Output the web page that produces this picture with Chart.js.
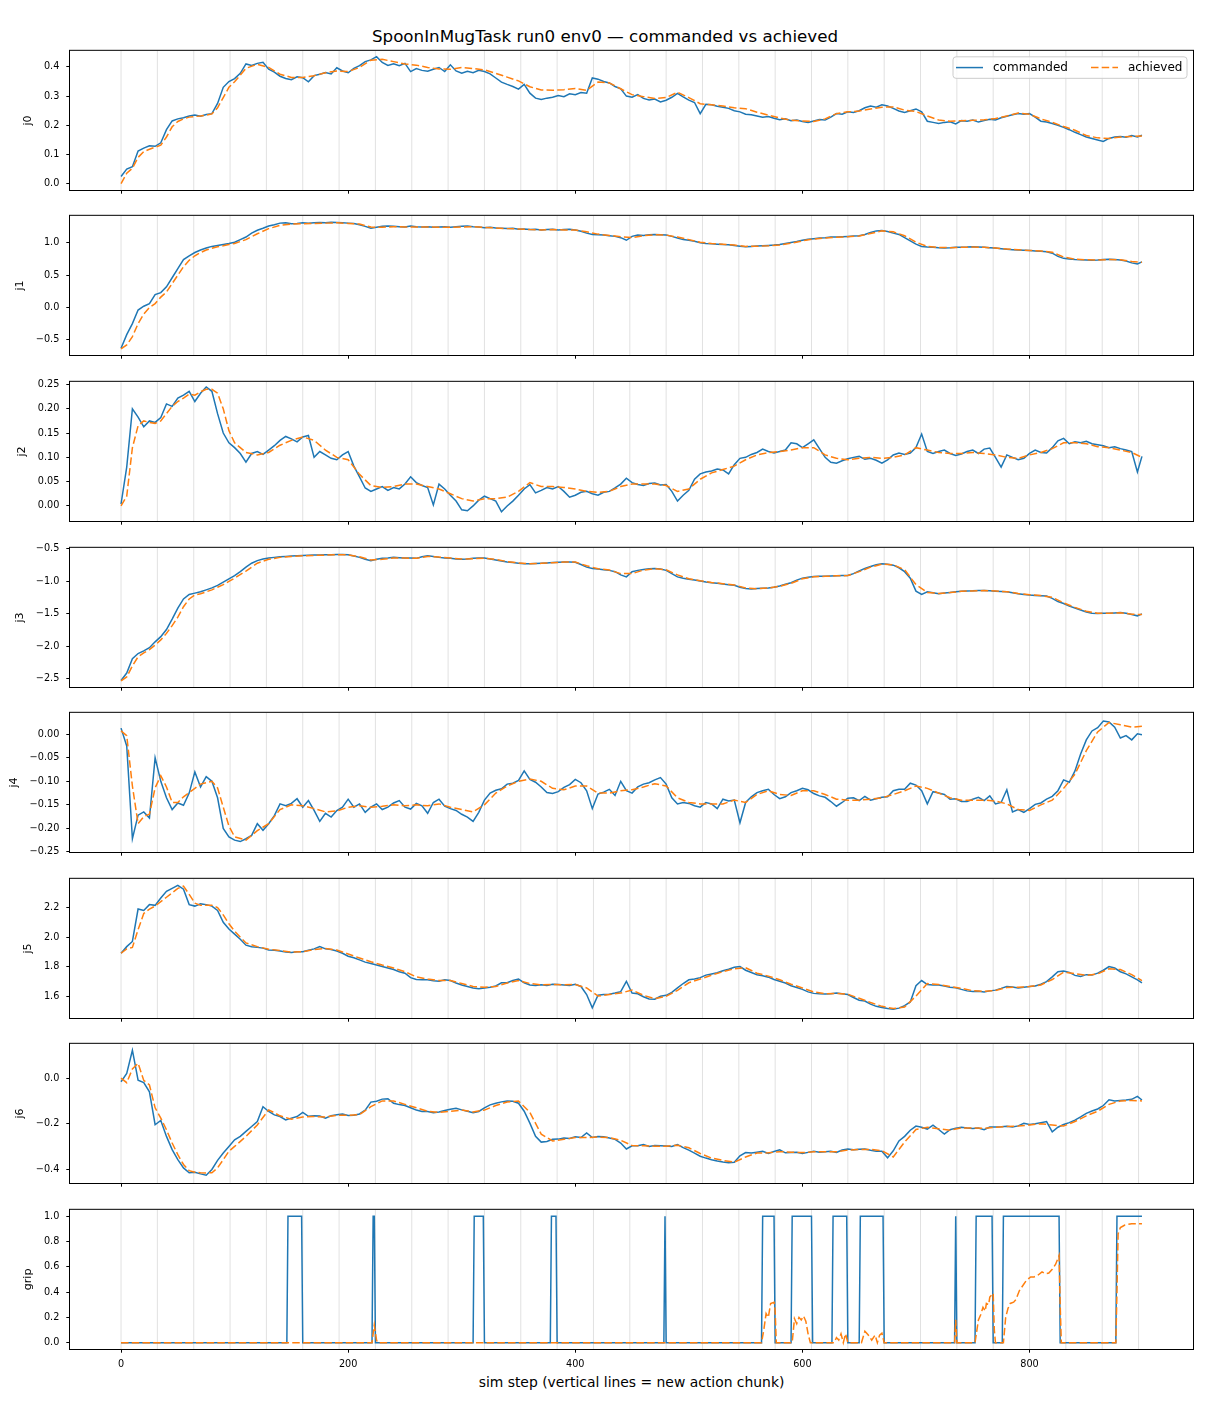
<!DOCTYPE html>
<html>
<head>
<meta charset="utf-8">
<title>SpoonInMugTask run0 env0</title>
<script src="https://cdn.jsdelivr.net/npm/chart.js@4.4.1/dist/chart.umd.min.js"></script>
<style>
  body { margin: 0; background: #fff; }
  #fig { position: relative; width: 1210px; height: 1408px; background: #fff; overflow: hidden; }
  #title { position: absolute; left: 0; top: 25px; width: 1210px; text-align: center;
           font: 16.7px "DejaVu Sans", sans-serif; line-height: 22px; color: #000; }
  #xlabel { position: absolute; left: 70px; top: 1373px; width: 1123px; text-align: center;
            font: 13.9px "DejaVu Sans", sans-serif; line-height: 18px; color: #000; }
  #fig canvas { position: absolute; left: 0; }
</style>
</head>
<body>
<div id="fig">
  <div id="title">SpoonInMugTask run0 env0 — commanded vs achieved</div>
  <div id="xlabel">sim step (vertical lines = new action chunk)</div>
</div>
<script>
// sample positions: commanded every 5 steps, achieved every 5 steps up to 100 then every 10
const cmdSteps = [];
for (let s = 0; s < 900; s += 5) cmdSteps.push(s);
cmdSteps.push(899);
const achSteps = [];
for (let s = 0; s <= 100; s += 5) achSteps.push(s);
for (let s = 110; s < 900; s += 10) achSteps.push(s);
achSteps.push(899);

// steps where a new action chunk starts
const chunkStarts = [0, 32, 64, 96, 128, 160, 192, 224, 256, 288, 320, 352, 384, 416, 448,
  480, 512, 544, 576, 608, 640, 672, 704, 736, 768, 800, 832, 864, 896];

const xTicks = [0, 200, 400, 600, 800];
const j0Ticks = [0.0, 0.1, 0.2, 0.3, 0.4];
const j1Ticks = [-0.5, 0.0, 0.5, 1.0];
const j2Ticks = [0.00, 0.05, 0.10, 0.15, 0.20, 0.25];
const j3Ticks = [-2.5, -2.0, -1.5, -1.0, -0.5];
const j4Ticks = [-0.25, -0.20, -0.15, -0.10, -0.05, 0.00];
const j5Ticks = [1.6, 1.8, 2.0, 2.2];
const j6Ticks = [-0.4, -0.2, 0.0];
const gripTicks = [0.0, 0.2, 0.4, 0.6, 0.8, 1.0];

const j0Cmd = [
  0.025, 0.05, 0.058, 0.112, 0.122, 0.13, 0.128, 0.14, 0.185, 0.215,
  0.222, 0.226, 0.232, 0.235, 0.231, 0.237, 0.24, 0.275, 0.33, 0.35,
  0.36, 0.378, 0.41, 0.405, 0.412, 0.416, 0.392, 0.382, 0.368, 0.36,
  0.356, 0.366, 0.363, 0.349, 0.37, 0.375, 0.381, 0.376, 0.397, 0.386,
  0.38, 0.395, 0.404, 0.418, 0.424, 0.435, 0.415, 0.405, 0.411, 0.404,
  0.412, 0.384, 0.394, 0.388, 0.385, 0.392, 0.398, 0.384, 0.407, 0.386,
  0.378, 0.385, 0.38, 0.388, 0.384, 0.376, 0.362, 0.348, 0.34, 0.333,
  0.324, 0.34, 0.31, 0.293, 0.288, 0.293, 0.296, 0.302, 0.298, 0.308,
  0.305, 0.312, 0.31, 0.362, 0.358, 0.35, 0.345, 0.333, 0.325, 0.3,
  0.296, 0.305, 0.292, 0.287, 0.29, 0.28, 0.286, 0.296, 0.309, 0.297,
  0.286, 0.278, 0.24, 0.272, 0.27, 0.265, 0.262, 0.258, 0.25, 0.246,
  0.238, 0.236, 0.232, 0.228, 0.23, 0.224, 0.219, 0.222, 0.216, 0.218,
  0.213, 0.21, 0.215, 0.22, 0.218, 0.228, 0.24, 0.238, 0.246, 0.244,
  0.25, 0.26, 0.266, 0.262, 0.27, 0.266, 0.258, 0.249, 0.244, 0.25,
  0.256, 0.246, 0.214, 0.21, 0.206, 0.21, 0.212, 0.205, 0.216, 0.214,
  0.218, 0.211, 0.216, 0.221, 0.218, 0.226, 0.231, 0.236, 0.24, 0.238,
  0.24, 0.228, 0.214, 0.211, 0.206, 0.2, 0.193, 0.185, 0.176, 0.168,
  0.16, 0.155, 0.15, 0.145, 0.155, 0.16, 0.162, 0.159, 0.165, 0.16,
  0.166
];
const j0Ach = [
  0.0, 0.036, 0.053, 0.09, 0.11, 0.118, 0.125, 0.132, 0.16, 0.195, 0.213,
  0.222, 0.228, 0.23, 0.232, 0.235, 0.239, 0.26, 0.295, 0.33, 0.349,
  0.395, 0.409, 0.398, 0.375, 0.364, 0.364, 0.37, 0.38, 0.386, 0.384,
  0.398, 0.423, 0.426, 0.418, 0.41, 0.406, 0.398, 0.393, 0.392, 0.398,
  0.394, 0.39, 0.378, 0.365, 0.352, 0.332, 0.321, 0.32, 0.322, 0.326,
  0.32, 0.348, 0.345, 0.325, 0.305, 0.298, 0.292, 0.295, 0.313, 0.295,
  0.274, 0.27, 0.266, 0.26, 0.257, 0.245, 0.235, 0.225, 0.217, 0.215,
  0.213, 0.222, 0.24, 0.246, 0.249, 0.256, 0.262, 0.263, 0.252, 0.247,
  0.232, 0.218, 0.214, 0.216, 0.217, 0.219, 0.223, 0.232, 0.242, 0.238,
  0.222, 0.21, 0.196, 0.183, 0.165, 0.157, 0.155, 0.16, 0.162,
  0.163
];

const j1Cmd = [
  -0.63, -0.42, -0.25, -0.04, 0.02, 0.06, 0.2, 0.23, 0.32, 0.46,
  0.6, 0.74, 0.8, 0.85, 0.89, 0.92, 0.945, 0.96, 0.975, 0.99,
  1.01, 1.05, 1.09, 1.15, 1.195, 1.225, 1.26, 1.28, 1.305, 1.31,
  1.295, 1.3, 1.31, 1.305, 1.31, 1.315, 1.31, 1.32, 1.315, 1.31,
  1.305, 1.3, 1.28, 1.255, 1.225, 1.24, 1.255, 1.26, 1.255, 1.25,
  1.245, 1.26, 1.25, 1.245, 1.25, 1.24, 1.245, 1.25, 1.24, 1.25,
  1.255, 1.26, 1.25, 1.245, 1.235, 1.24, 1.23, 1.225, 1.22, 1.225,
  1.21, 1.215, 1.205, 1.21, 1.2, 1.205, 1.21, 1.2, 1.205, 1.21,
  1.2, 1.18, 1.15, 1.13, 1.125, 1.12, 1.11, 1.1, 1.08, 1.04,
  1.1, 1.12, 1.115, 1.125, 1.13, 1.125, 1.12, 1.1, 1.075, 1.05,
  1.04, 1.025, 1.0, 0.99, 0.985, 0.98, 0.975, 0.972, 0.96, 0.948,
  0.94, 0.945, 0.95, 0.955, 0.96, 0.965, 0.975, 0.99, 1.005, 1.02,
  1.04, 1.055, 1.065, 1.075, 1.08, 1.09, 1.09, 1.095, 1.1, 1.105,
  1.11, 1.13, 1.16, 1.185, 1.19, 1.175, 1.15, 1.13, 1.08, 1.03,
  0.98, 0.945, 0.935, 0.93, 0.925, 0.922, 0.925, 0.93, 0.932, 0.935,
  0.94, 0.935, 0.93, 0.925, 0.92, 0.91, 0.9, 0.895, 0.89, 0.885,
  0.88, 0.875, 0.87, 0.862, 0.84, 0.79, 0.76, 0.75, 0.742, 0.738,
  0.735, 0.732, 0.736, 0.742, 0.745, 0.744, 0.735, 0.72, 0.69, 0.672,
  0.705
];
const j1Ach = [
  -0.64, -0.58, -0.45, -0.25, -0.1, 0.0, 0.06, 0.16, 0.24, 0.37, 0.5,
  0.63, 0.73, 0.8, 0.85, 0.89, 0.915, 0.94, 0.955, 0.975, 0.99,
  1.05, 1.14, 1.22, 1.27, 1.29, 1.295, 1.3, 1.305, 1.31, 1.3,
  1.29, 1.245, 1.24, 1.25, 1.245, 1.245, 1.245, 1.24, 1.24, 1.245,
  1.25, 1.24, 1.23, 1.22, 1.215, 1.205, 1.2, 1.205, 1.2, 1.2,
  1.17, 1.135, 1.115, 1.095, 1.08, 1.11, 1.125, 1.12, 1.09, 1.05,
  1.01, 0.99, 0.98, 0.965, 0.945, 0.948, 0.955, 0.968, 0.995, 1.03,
  1.06, 1.075, 1.085, 1.095, 1.105, 1.145, 1.185, 1.17, 1.11, 1.01,
  0.945, 0.93, 0.925, 0.93, 0.935, 0.93, 0.92, 0.905, 0.892, 0.882,
  0.872, 0.855, 0.78, 0.748, 0.738, 0.735, 0.742, 0.738, 0.71,
  0.7
];

const j2Cmd = [
  0.004, 0.08, 0.2, 0.183, 0.163, 0.175, 0.172, 0.182, 0.21, 0.205,
  0.222, 0.228, 0.236, 0.215, 0.232, 0.245, 0.236, 0.19, 0.15, 0.13,
  0.12, 0.108, 0.09, 0.108, 0.112, 0.106, 0.115, 0.124, 0.135, 0.143,
  0.138, 0.132, 0.142, 0.145, 0.1, 0.112, 0.105, 0.098, 0.095, 0.105,
  0.112, 0.082, 0.06, 0.037, 0.03, 0.035, 0.04, 0.032, 0.038, 0.035,
  0.045, 0.06, 0.048, 0.042, 0.038, 0.002, 0.045, 0.035, 0.022, 0.01,
  -0.008, -0.01, 0.0, 0.012, 0.02, 0.015, 0.01, -0.012, 0.0, 0.01,
  0.022, 0.035, 0.044, 0.027, 0.032, 0.038, 0.035, 0.04, 0.03, 0.018,
  0.022, 0.028, 0.03, 0.025, 0.022, 0.028, 0.03, 0.037, 0.045, 0.057,
  0.048, 0.044, 0.042, 0.046, 0.047, 0.043, 0.044, 0.03, 0.01, 0.022,
  0.032, 0.055, 0.066, 0.07, 0.072, 0.076, 0.074, 0.066, 0.085, 0.098,
  0.1, 0.106, 0.11, 0.117, 0.112, 0.109, 0.112, 0.115, 0.13, 0.128,
  0.12, 0.128, 0.136, 0.118, 0.1, 0.09, 0.088, 0.093, 0.097, 0.1,
  0.102, 0.096, 0.098, 0.094, 0.088, 0.095, 0.105, 0.109, 0.106, 0.109,
  0.12, 0.148, 0.112, 0.108, 0.112, 0.115, 0.108, 0.104, 0.107, 0.112,
  0.115, 0.108, 0.117, 0.119, 0.1, 0.08, 0.105, 0.1, 0.095, 0.098,
  0.108, 0.115, 0.11, 0.109, 0.12, 0.134, 0.139, 0.128, 0.132, 0.13,
  0.133, 0.128, 0.126, 0.124, 0.12, 0.122, 0.118, 0.115, 0.112, 0.07,
  0.102
];
const j2Ach = [
  0.0, 0.02, 0.12, 0.165, 0.175, 0.172, 0.17, 0.175, 0.19, 0.205, 0.215,
  0.222, 0.23, 0.228, 0.235, 0.24, 0.24, 0.232, 0.2, 0.155, 0.13,
  0.11, 0.105, 0.11, 0.125, 0.135, 0.142, 0.135, 0.115, 0.1, 0.095,
  0.065, 0.042, 0.038, 0.04, 0.045, 0.045, 0.04, 0.035, 0.025, 0.015,
  0.01, 0.015, 0.015, 0.018, 0.03, 0.048, 0.04, 0.04, 0.038, 0.035,
  0.03, 0.028, 0.03, 0.04, 0.045, 0.045, 0.045, 0.042, 0.03, 0.035,
  0.055, 0.068, 0.075, 0.082, 0.095, 0.105, 0.11, 0.112, 0.115, 0.12,
  0.12, 0.105, 0.098, 0.095, 0.098, 0.1, 0.098, 0.1, 0.105, 0.12,
  0.115, 0.11, 0.108, 0.108, 0.11, 0.108, 0.105, 0.1, 0.098, 0.105,
  0.11, 0.118, 0.13, 0.13, 0.128, 0.122, 0.12, 0.115, 0.11,
  0.1
];

const j3Cmd = [
  -2.525, -2.41, -2.19, -2.11, -2.07, -2.02, -1.93, -1.85, -1.74, -1.58,
  -1.41, -1.27, -1.2, -1.18, -1.16, -1.13, -1.1, -1.06, -1.01, -0.96,
  -0.91, -0.85, -0.78, -0.72, -0.68, -0.655, -0.64, -0.63, -0.62, -0.615,
  -0.61, -0.605, -0.6, -0.598, -0.595, -0.592, -0.59, -0.588, -0.585, -0.585,
  -0.59, -0.61, -0.63, -0.66, -0.68, -0.66, -0.645, -0.64, -0.63, -0.635,
  -0.64, -0.64, -0.645, -0.62, -0.605, -0.615, -0.63, -0.64, -0.645, -0.655,
  -0.66, -0.655, -0.645, -0.64, -0.64, -0.655, -0.67, -0.685, -0.7, -0.71,
  -0.72, -0.728, -0.73, -0.725, -0.72, -0.715, -0.71, -0.705, -0.7, -0.7,
  -0.705, -0.74, -0.78, -0.8, -0.81, -0.82, -0.83, -0.85, -0.9, -0.93,
  -0.85, -0.83, -0.815, -0.805, -0.8, -0.81, -0.83, -0.88, -0.93, -0.95,
  -0.965, -0.98, -0.995, -1.01, -1.02, -1.03, -1.04, -1.05, -1.06, -1.09,
  -1.11, -1.115, -1.11, -1.105, -1.1, -1.09, -1.07, -1.045, -1.02, -0.98,
  -0.95, -0.935, -0.925, -0.92, -0.92, -0.915, -0.912, -0.91, -0.91, -0.88,
  -0.84, -0.8, -0.77, -0.745, -0.73, -0.735, -0.75, -0.79, -0.85, -0.95,
  -1.15, -1.2, -1.16, -1.175, -1.19, -1.18, -1.17, -1.16, -1.15, -1.148,
  -1.145, -1.14, -1.14, -1.145, -1.15, -1.155, -1.16, -1.175, -1.19, -1.2,
  -1.21, -1.215, -1.22, -1.225, -1.26, -1.31, -1.34, -1.38, -1.41, -1.44,
  -1.47, -1.49, -1.495, -1.49, -1.49, -1.485, -1.48, -1.49, -1.51, -1.53,
  -1.5
];
const j3Ach = [
  -2.53, -2.47, -2.3, -2.16, -2.1, -2.05, -1.98, -1.9, -1.8, -1.68, -1.55,
  -1.39, -1.27, -1.21, -1.19, -1.16, -1.13, -1.09, -1.05, -1.0, -0.95,
  -0.84, -0.72, -0.66, -0.63, -0.615, -0.605, -0.6, -0.595, -0.59, -0.592,
  -0.62, -0.67, -0.66, -0.64, -0.64, -0.645, -0.615, -0.625, -0.64, -0.655,
  -0.65, -0.642, -0.66, -0.695, -0.715, -0.728, -0.722, -0.712, -0.702, -0.702,
  -0.76, -0.805, -0.825, -0.88, -0.88, -0.825, -0.805, -0.82, -0.9, -0.96,
  -0.99, -1.015, -1.035, -1.055, -1.1, -1.112, -1.102, -1.075, -1.03, -0.96,
  -0.93, -0.922, -0.914, -0.91, -0.85, -0.78, -0.735, -0.745, -0.82, -1.05,
  -1.17, -1.185, -1.172, -1.152, -1.146, -1.14, -1.148, -1.158, -1.185, -1.205,
  -1.218, -1.245, -1.33, -1.4, -1.46, -1.49, -1.49, -1.482, -1.505,
  -1.51
];

const j4Cmd = [
  0.013, -0.025, -0.222, -0.172, -0.165, -0.178, -0.05, -0.1, -0.135, -0.16,
  -0.146, -0.151, -0.125, -0.08, -0.112, -0.09, -0.1, -0.135, -0.2, -0.218,
  -0.225, -0.228, -0.222, -0.215, -0.19, -0.204, -0.19, -0.173, -0.148, -0.152,
  -0.147, -0.137, -0.155, -0.141, -0.162, -0.185, -0.168, -0.176, -0.162, -0.155,
  -0.138, -0.155, -0.148, -0.166, -0.155, -0.148, -0.16, -0.155, -0.146, -0.141,
  -0.155, -0.159, -0.147, -0.152, -0.168, -0.145, -0.138, -0.153, -0.158, -0.162,
  -0.17, -0.176, -0.185, -0.166, -0.14, -0.125, -0.119, -0.116, -0.106, -0.104,
  -0.098, -0.078, -0.096, -0.102, -0.112, -0.124, -0.126, -0.122, -0.113, -0.107,
  -0.096, -0.103, -0.12, -0.158, -0.127, -0.123, -0.117, -0.13, -0.1, -0.12,
  -0.125, -0.112, -0.106, -0.103, -0.097, -0.092, -0.106, -0.135, -0.148, -0.145,
  -0.147, -0.152, -0.155, -0.145, -0.148, -0.158, -0.138, -0.142, -0.14, -0.188,
  -0.145, -0.133, -0.124, -0.12, -0.117, -0.128, -0.137, -0.133, -0.124, -0.12,
  -0.115, -0.118, -0.126, -0.131, -0.134, -0.143, -0.153, -0.145, -0.136, -0.135,
  -0.141, -0.132, -0.14, -0.137, -0.134, -0.133, -0.12, -0.117, -0.117, -0.104,
  -0.108, -0.12, -0.148, -0.122, -0.125, -0.128, -0.138, -0.137, -0.143, -0.143,
  -0.138, -0.134, -0.141, -0.131, -0.148, -0.145, -0.118, -0.165, -0.16, -0.166,
  -0.158, -0.149, -0.146, -0.138, -0.132, -0.12, -0.097, -0.102, -0.078, -0.042,
  -0.012, 0.007, 0.014, 0.028, 0.026, 0.015, -0.008, -0.003, -0.012, 0.001,
  -0.001
];
const j4Ach = [
  0.007, -0.003, -0.11, -0.19, -0.175, -0.17, -0.114, -0.088, -0.112, -0.145, -0.145,
  -0.133, -0.124, -0.115, -0.106, -0.103, -0.1, -0.114, -0.155, -0.195, -0.218,
  -0.225, -0.205, -0.19, -0.16, -0.15, -0.152, -0.158, -0.165, -0.163, -0.155,
  -0.152, -0.155, -0.153, -0.15, -0.152, -0.15, -0.152, -0.148, -0.155, -0.16,
  -0.165, -0.15, -0.125, -0.11, -0.1, -0.095, -0.1, -0.115, -0.118, -0.11,
  -0.11, -0.125, -0.125, -0.12, -0.118, -0.112, -0.105, -0.11, -0.135, -0.145,
  -0.148, -0.148, -0.148, -0.14, -0.145, -0.128, -0.12, -0.128, -0.13, -0.12,
  -0.12, -0.128, -0.138, -0.14, -0.14, -0.138, -0.135, -0.128, -0.12, -0.11,
  -0.115, -0.125, -0.135, -0.14, -0.14, -0.14, -0.142, -0.148, -0.16, -0.162,
  -0.15, -0.14, -0.115, -0.085, -0.035, 0.005, 0.025, 0.02, 0.015,
  0.017
];

const j5Cmd = [
  1.89, 1.935, 1.97, 2.19, 2.18, 2.22, 2.215, 2.265, 2.31, 2.33,
  2.35, 2.325, 2.22, 2.21, 2.225, 2.22, 2.21, 2.18, 2.1, 2.055,
  2.02, 1.985, 1.945, 1.935, 1.93, 1.925, 1.912, 1.91, 1.905, 1.898,
  1.895, 1.9, 1.9, 1.91, 1.92, 1.935, 1.92, 1.915, 1.905, 1.89,
  1.87, 1.86, 1.845, 1.83, 1.82, 1.81, 1.8, 1.79, 1.78, 1.765,
  1.755, 1.725, 1.712, 1.71, 1.71, 1.703, 1.7, 1.71, 1.705, 1.688,
  1.675, 1.665, 1.655, 1.65, 1.655, 1.66, 1.668, 1.69, 1.69, 1.705,
  1.715, 1.69, 1.675, 1.672, 1.676, 1.672, 1.68, 1.678, 1.675, 1.672,
  1.68, 1.665, 1.61, 1.52, 1.605, 1.61, 1.612, 1.62, 1.63, 1.7,
  1.62, 1.615, 1.595, 1.58, 1.578, 1.598, 1.605, 1.625, 1.655, 1.685,
  1.71, 1.715, 1.725, 1.742, 1.75, 1.758, 1.772, 1.782, 1.795, 1.8,
  1.775, 1.76, 1.745, 1.738, 1.728, 1.712, 1.7, 1.688, 1.67, 1.658,
  1.645, 1.628, 1.618, 1.615, 1.613, 1.616, 1.62, 1.615, 1.61, 1.59,
  1.572, 1.566, 1.545, 1.53, 1.522, 1.515, 1.51, 1.518, 1.535, 1.56,
  1.67, 1.705, 1.678, 1.675, 1.674, 1.668, 1.66, 1.656, 1.645, 1.635,
  1.63, 1.632, 1.628, 1.635, 1.64, 1.652, 1.665, 1.662, 1.655, 1.66,
  1.665, 1.668, 1.68, 1.698, 1.73, 1.765, 1.77, 1.76, 1.74, 1.732,
  1.745, 1.742, 1.755, 1.775, 1.8, 1.79, 1.765, 1.75, 1.73, 1.71,
  1.69
];
const j5Ach = [
  1.89, 1.92, 1.93, 2.05, 2.16, 2.19, 2.21, 2.24, 2.27, 2.3, 2.33,
  2.345, 2.29, 2.23, 2.215, 2.215, 2.215, 2.2, 2.15, 2.09, 2.04,
  1.96, 1.935, 1.918, 1.908, 1.898, 1.9, 1.915, 1.922, 1.912, 1.885,
  1.858, 1.832, 1.81, 1.79, 1.765, 1.73, 1.715, 1.705, 1.705, 1.685,
  1.665, 1.66, 1.665, 1.688, 1.705, 1.685, 1.676, 1.678, 1.676, 1.678,
  1.655, 1.6, 1.61, 1.62, 1.64, 1.605, 1.582, 1.598, 1.638, 1.69,
  1.715, 1.742, 1.765, 1.785, 1.792, 1.755, 1.735, 1.71, 1.68, 1.655,
  1.628, 1.615, 1.618, 1.612, 1.585, 1.556, 1.53, 1.515, 1.525, 1.6,
  1.685, 1.678, 1.665, 1.652, 1.636, 1.632, 1.638, 1.658, 1.66, 1.664,
  1.675, 1.712, 1.762, 1.752, 1.74, 1.75, 1.785, 1.78, 1.745,
  1.705
];

const j6Cmd = [
  -0.016, 0.02, 0.122, -0.009, -0.02, -0.06, -0.204, -0.185, -0.255, -0.313,
  -0.357, -0.393, -0.414, -0.412, -0.419, -0.425, -0.4, -0.36, -0.328, -0.299,
  -0.27, -0.255, -0.233, -0.212, -0.19, -0.125, -0.146, -0.161, -0.168, -0.183,
  -0.175, -0.168, -0.15, -0.167, -0.165, -0.166, -0.175, -0.165, -0.16, -0.157,
  -0.164, -0.163, -0.157, -0.14, -0.105, -0.101, -0.092, -0.09, -0.11, -0.116,
  -0.12, -0.13, -0.14, -0.146, -0.146, -0.152, -0.148, -0.142, -0.136, -0.132,
  -0.139, -0.145, -0.152, -0.146, -0.13, -0.117, -0.11, -0.104, -0.1, -0.101,
  -0.11, -0.145, -0.197, -0.255, -0.28, -0.277, -0.268, -0.267, -0.262, -0.264,
  -0.257, -0.26, -0.24, -0.26, -0.256, -0.257, -0.262, -0.268, -0.284, -0.31,
  -0.296, -0.296, -0.291, -0.299, -0.295, -0.296, -0.297, -0.299, -0.291, -0.304,
  -0.315, -0.328, -0.342, -0.35, -0.357, -0.363, -0.367, -0.37, -0.368, -0.34,
  -0.326, -0.328, -0.324, -0.32, -0.33, -0.321, -0.314, -0.327, -0.326, -0.325,
  -0.33, -0.325, -0.32, -0.324, -0.322, -0.32, -0.325, -0.315, -0.31, -0.313,
  -0.311, -0.31, -0.316, -0.32, -0.32, -0.349, -0.318, -0.275, -0.255, -0.228,
  -0.21, -0.215, -0.223, -0.206, -0.225, -0.245, -0.226, -0.219, -0.215, -0.218,
  -0.22, -0.218, -0.226, -0.214, -0.214, -0.213, -0.211, -0.214, -0.209, -0.198,
  -0.203, -0.2, -0.195, -0.19, -0.235, -0.215, -0.203, -0.195, -0.184, -0.17,
  -0.154, -0.144, -0.135, -0.12, -0.095, -0.1, -0.098, -0.096, -0.093, -0.08,
  -0.096
];
const j6Ach = [
  0.0, -0.02, 0.04, 0.065, -0.01, -0.03, -0.13, -0.175, -0.226, -0.284, -0.335,
  -0.378, -0.405, -0.412, -0.414, -0.415, -0.414, -0.393, -0.357, -0.32, -0.299,
  -0.255, -0.205, -0.139, -0.165, -0.18, -0.17, -0.168, -0.17, -0.163, -0.163,
  -0.16, -0.125, -0.1, -0.1, -0.115, -0.13, -0.145, -0.15, -0.145, -0.14,
  -0.148, -0.14, -0.12, -0.105, -0.1, -0.15, -0.245, -0.275, -0.268, -0.26,
  -0.26, -0.258, -0.26, -0.272, -0.295, -0.296, -0.298, -0.298, -0.294, -0.305,
  -0.33, -0.35, -0.36, -0.368, -0.345, -0.328, -0.327, -0.322, -0.324, -0.326,
  -0.322, -0.322, -0.322, -0.315, -0.312, -0.312, -0.318, -0.345, -0.28, -0.225,
  -0.215, -0.222, -0.228, -0.218, -0.218, -0.22, -0.215, -0.212, -0.21, -0.205,
  -0.2, -0.205, -0.21, -0.19, -0.165, -0.145, -0.115, -0.1, -0.098,
  -0.1
];

// gripper: piecewise points (step, value)
const gripCmdSteps = [0, 146, 147, 159, 160, 221, 222, 223, 224, 310, 311, 319, 320,
  378, 379, 383, 384, 478, 479, 480, 564, 565, 575, 576, 590, 591, 608, 609,
  626, 627, 639, 640, 650, 651, 671, 672, 734, 735, 736, 752, 753, 767, 768,
  776, 777, 826, 827, 876, 877, 899];
const gripCmdVals = [0, 0, 1, 1, 0, 0, 1, 1, 0, 0, 1, 1, 0,
  0, 1, 1, 0, 0, 1, 0, 0, 1, 1, 0, 0, 1, 1, 0,
  0, 1, 1, 0, 0, 1, 1, 0, 0, 1, 0, 0, 1, 1, 0,
  0, 1, 1, 0, 0, 1, 1];
const gripAchSteps = [0, 221, 223, 225, 226, 564, 566, 568, 570, 572, 575, 576, 577,
  591, 593, 595, 597, 599, 601, 603, 605, 607, 628, 630, 632, 634, 636, 638, 640,
  652, 655, 658, 661, 664, 666, 668, 670, 672, 734, 735, 736,
  752, 755, 757, 759, 761, 762, 764, 765, 767, 768, 769, 770,
  777, 779, 781, 783, 786, 788, 791, 794, 797, 801, 804, 807, 811, 814, 817, 820, 823, 826, 827, 828,
  876, 877, 878, 880, 884, 890, 899];
const gripAchVals = [0, 0, 0.14, 0.02, 0, 0, 0.1, 0.23, 0.2, 0.31, 0.32, 0.25, 0,
  0, 0.19, 0.15, 0.2, 0.18, 0.21, 0.17, 0.07, 0, 0, 0.04, 0.02, 0.07, 0.0, 0.07, 0,
  0, 0.09, 0.06, 0.02, 0.06, 0.0, 0.06, 0.075, 0, 0, 0.18, 0,
  0, 0.18, 0.22, 0.28, 0.25, 0.31, 0.3, 0.36, 0.38, 0.39, 0.1, 0,
  0, 0.2, 0.27, 0.31, 0.32, 0.34, 0.41, 0.45, 0.49, 0.52, 0.52, 0.53, 0.56, 0.545, 0.55, 0.58, 0.62, 0.69, 0.3, 0,
  0, 0.4, 0.86, 0.91, 0.93, 0.94, 0.94];

const BLUE = '#1f77b4';
const ORANGE = '#ff7f0e';
const FONT = '"DejaVu Sans", sans-serif';
const TICK_LEN = 3.7;
const TICK_PAD = 7;

const panels = [
  { name: 'j0', cmdX: cmdSteps, cmd: j0Cmd, achX: achSteps, ach: j0Ach, min: -0.0215, max: 0.455, ticks: j0Ticks, dec: 1, legend: true },
  { name: 'j1', cmdX: cmdSteps, cmd: j1Cmd, achX: achSteps, ach: j1Ach, min: -0.735, max: 1.418, ticks: j1Ticks, dec: 1 },
  { name: 'j2', cmdX: cmdSteps, cmd: j2Cmd, achX: achSteps, ach: j2Ach, min: -0.031, max: 0.2555, ticks: j2Ticks, dec: 2 },
  { name: 'j3', cmdX: cmdSteps, cmd: j3Cmd, achX: achSteps, ach: j3Ach, min: -2.625, max: -0.483, ticks: j3Ticks, dec: 1 },
  { name: 'j4', cmdX: cmdSteps, cmd: j4Cmd, achX: achSteps, ach: j4Ach, min: -0.2502, max: 0.0455, ticks: j4Ticks, dec: 2 },
  { name: 'j5', cmdX: cmdSteps, cmd: j5Cmd, achX: achSteps, ach: j5Ach, min: 1.451, max: 2.395, ticks: j5Ticks, dec: 1 },
  { name: 'j6', cmdX: cmdSteps, cmd: j6Cmd, achX: achSteps, ach: j6Ach, min: -0.459, max: 0.15, ticks: j6Ticks, dec: 1 },
  { name: 'grip', cmdX: gripCmdSteps, cmd: gripCmdVals, achX: gripAchSteps, ach: gripAchVals, min: -0.05, max: 1.05, ticks: gripTicks, dec: 1, xLabels: true }
];
const axTops = [50, 215, 381, 547, 712, 878, 1043, 1209];
const AX_H = 140, PAD_TOP = 12, X_AXIS_H = 30;

function toXY(xs, ys) {
  const n = Math.min(xs.length, ys.length);
  const out = [];
  for (let i = 0; i < n; i++) out.push({ x: xs[i], y: ys[i] });
  return out;
}

function fmt(v, dec) {
  return v.toFixed(dec).replace('-', '\u2212');
}

// light vertical line at each chunk start
const chunkLines = {
  id: 'chunkLines',
  beforeDatasetsDraw(chart) {
    const { ctx, chartArea: a, scales: { x } } = chart;
    ctx.save();
    ctx.strokeStyle = 'rgba(128,128,128,0.3)';
    ctx.lineWidth = 0.8;
    chunkStarts.forEach(s => {
      const px = x.getPixelForValue(s);
      ctx.beginPath();
      ctx.moveTo(px, a.top);
      ctx.lineTo(px, a.bottom);
      ctx.stroke();
    });
    ctx.restore();
  }
};

// black box around the plot area
const frame = {
  id: 'frame',
  afterDatasetsDraw(chart) {
    const { ctx, chartArea: a } = chart;
    ctx.save();
    ctx.strokeStyle = '#000';
    ctx.lineWidth = 1;
    ctx.strokeRect(a.left - 0.5, a.top - 0.5, a.right - a.left + 1, a.bottom - a.top + 1);
    ctx.restore();
  }
};

// rotated y label left of the tick labels
const yTitle = {
  id: 'yTitle',
  afterDraw(chart, args, opts) {
    const { ctx, chartArea: a, scales: { y } } = chart;
    ctx.save();
    ctx.font = '9.7px ' + FONT;
    let w = 0;
    y.ticks.forEach(t => { w = Math.max(w, ctx.measureText(String(t.label)).width); });
    const x = a.left - TICK_LEN - TICK_PAD - w - 16;
    ctx.translate(x, (a.top + a.bottom) / 2);
    ctx.rotate(-Math.PI / 2);
    ctx.font = '11.1px ' + FONT;
    ctx.fillStyle = '#000';
    ctx.textAlign = 'center';
    ctx.textBaseline = 'middle';
    ctx.fillText(opts.text, 0, 0);
    ctx.restore();
  }
};

// legend box in the upper right of the first panel
const legendBox = {
  id: 'legendBox',
  afterDraw(chart) {
    const { ctx, chartArea: a } = chart;
    const x1 = a.right - 240, x2 = a.right - 6;
    const y1 = a.top + 6, y2 = a.top + 27.5;
    const r = 3;
    ctx.save();
    ctx.beginPath();
    ctx.moveTo(x1 + r, y1);
    ctx.lineTo(x2 - r, y1);
    ctx.quadraticCurveTo(x2, y1, x2, y1 + r);
    ctx.lineTo(x2, y2 - r);
    ctx.quadraticCurveTo(x2, y2, x2 - r, y2);
    ctx.lineTo(x1 + r, y2);
    ctx.quadraticCurveTo(x1, y2, x1, y2 - r);
    ctx.lineTo(x1, y1 + r);
    ctx.quadraticCurveTo(x1, y1, x1 + r, y1);
    ctx.closePath();
    ctx.fillStyle = 'rgba(255,255,255,0.8)';
    ctx.fill();
    ctx.strokeStyle = '#cccccc';
    ctx.lineWidth = 1;
    ctx.stroke();

    const cy = (y1 + y2) / 2;
    const offs = [3, 138];
    chart.data.datasets.forEach((ds, i) => {
      const lx = x1 + offs[i];
      ctx.beginPath();
      ctx.setLineDash(ds.borderDash || []);
      ctx.strokeStyle = ds.borderColor;
      ctx.lineWidth = ds.borderWidth;
      ctx.moveTo(lx, cy);
      ctx.lineTo(lx + 27, cy);
      ctx.stroke();
      ctx.setLineDash([]);
      ctx.fillStyle = '#000';
      ctx.font = '12px ' + FONT;
      ctx.textAlign = 'left';
      ctx.textBaseline = 'middle';
      ctx.fillText(ds.label, lx + 37, cy);
    });
    ctx.restore();
  }
};

const fig = document.getElementById('fig');

panels.forEach((p, i) => {
  const canvas = document.createElement('canvas');
  canvas.width = 1210;
  canvas.height = PAD_TOP + AX_H + X_AXIS_H;
  canvas.style.top = (axTops[i] - PAD_TOP) + 'px';
  fig.appendChild(canvas);

  const plugins = [chunkLines, frame, yTitle];
  if (p.legend) plugins.push(legendBox);

  new Chart(canvas, {
    type: 'line',
    data: {
      datasets: [
        {
          label: 'commanded',
          data: toXY(p.cmdX, p.cmd),
          borderColor: BLUE,
          borderWidth: 1.5,
          pointRadius: 0,
          tension: 0,
          order: 1
        },
        {
          label: 'achieved',
          data: toXY(p.achX, p.ach),
          borderColor: ORANGE,
          borderWidth: 1.5,
          borderDash: [7.5, 3.2],
          pointRadius: 0,
          tension: 0,
          order: 0
        }
      ]
    },
    options: {
      responsive: false,
      animation: false,
      events: [],
      parsing: false,
      layout: { padding: { top: PAD_TOP, right: 17, bottom: 0, left: 0 } },
      plugins: {
        legend: { display: false },
        tooltip: { enabled: false },
        yTitle: { text: p.name }
      },
      scales: {
        x: {
          type: 'linear',
          min: -44.95,
          max: 943.95,
          afterBuildTicks: s => { s.ticks = xTicks.map(v => ({ value: v })); },
          afterFit: s => { s.height = X_AXIS_H; },
          ticks: {
            display: !!p.xLabels,
            autoSkip: false,
            maxRotation: 0,
            padding: 6,
            color: '#000',
            font: { family: FONT, size: 9.7 },
            callback: v => String(v)
          },
          grid: { drawOnChartArea: false, drawTicks: true, tickLength: TICK_LEN, tickColor: '#000', tickWidth: 1 },
          border: { display: false }
        },
        y: {
          type: 'linear',
          min: p.min,
          max: p.max,
          afterBuildTicks: s => { s.ticks = p.ticks.map(v => ({ value: v })); },
          afterFit: s => { s.width = 70; },
          ticks: {
            autoSkip: false,
            padding: TICK_PAD,
            color: '#000',
            font: { family: FONT, size: 9.7 },
            callback: v => fmt(v, p.dec)
          },
          grid: { drawOnChartArea: false, drawTicks: true, tickLength: TICK_LEN, tickColor: '#000', tickWidth: 1 },
          border: { display: false }
        }
      }
    },
    plugins: plugins
  });
});
</script>
</body>
</html>
